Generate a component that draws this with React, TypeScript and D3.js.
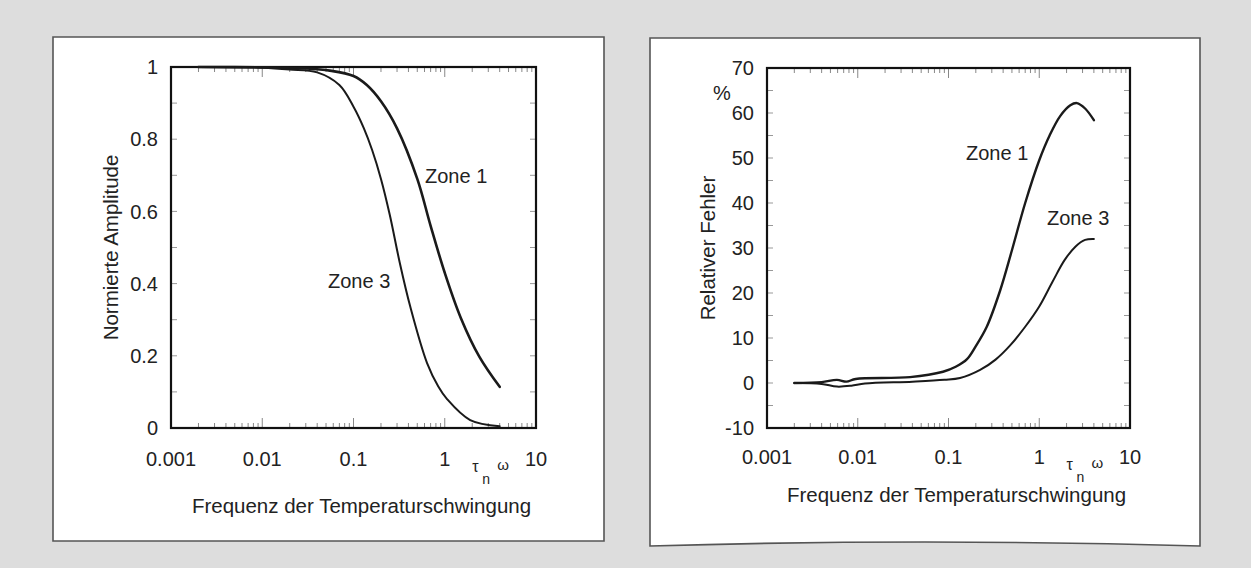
import React from "react";
import * as d3 from "d3";

// ---------- data ----------
const xTickValues = [0.001, 0.01, 0.1, 1, 10];
const xTickLabels = ["0.001", "0.01", "0.1", "1", "10"];

const ampTickValues = [0, 0.2, 0.4, 0.6, 0.8, 1];
const ampTickLabels = ["0", "0.2", "0.4", "0.6", "0.8", "1"];

const errTickValues = [-10, 0, 10, 20, 30, 40, 50, 60, 70];
const errTickLabels = ["-10", "0", "10", "20", "30", "40", "50", "60", "70"];

const zone1AmpX = [0.002, 0.01, 0.03, 0.055, 0.1, 0.14, 0.2, 0.3, 0.5, 0.7, 1.0, 1.5, 2.4, 4.0];
const zone1AmpY = [1.0, 0.999, 0.996, 0.99, 0.975, 0.95, 0.905, 0.83, 0.69, 0.56, 0.43, 0.305, 0.197, 0.114];

const zone3AmpX = [0.002, 0.01, 0.02, 0.04, 0.07, 0.1, 0.13, 0.16, 0.2, 0.25, 0.32, 0.42, 0.64, 0.85, 1.06, 1.9, 4.0];
const zone3AmpY = [1.0, 0.998, 0.993, 0.985, 0.95, 0.89, 0.83, 0.77, 0.69, 0.59, 0.46, 0.335, 0.18, 0.115, 0.08, 0.022, 0.005];

const zone1ErrX = [0.002, 0.004, 0.0059, 0.0075, 0.0095, 0.0377, 0.087, 0.12, 0.16, 0.2, 0.264, 0.37, 0.5, 0.7, 1.0, 1.3, 1.7, 2.2, 2.6, 3.2, 4.0];
const zone1ErrY = [0, 0.2, 0.7, 0.3, 0.9, 1.3, 2.5, 3.6, 5.3, 8.2, 12.5, 20.5, 29.5, 40, 49.5, 55, 59.3, 61.7, 62.2, 61.0, 58.4];

const zone3ErrX = [0.002, 0.004, 0.0059, 0.0085, 0.012, 0.04, 0.09, 0.134, 0.223, 0.33, 0.475, 0.7, 1.0, 1.4, 1.9, 2.5, 3.2, 4.0];
const zone3ErrY = [0, -0.2, -0.8, -0.6, -0.1, 0.3, 0.7, 1.1, 2.9, 5.2, 8.3, 12.5, 17, 22.5, 27.3, 30.3, 31.8, 32.0];

const FONT = "'Liberation Sans', Arial, sans-serif";
const TXT = "#222";

type Series = { xs: number[]; ys: number[]; w: number };

type PanelProps = {
  frame: { x0: number; y0: number; x1: number; y1: number; sag: number };
  plot: { left: number; right: number; top: number; bottom: number };
  yDomain: [number, number];
  yTicks: number[];
  yTickLabels: string[];
  yMinorStep: number;
  series: Series[];
  yLabel: string;
  yLabelX: number;
  percent?: boolean;
  labels: { text: string; x: number; y: number }[];
  xLabelY: number;
  titleY: number;
};

function Panel(p: PanelProps) {
  const x = d3.scaleLog().domain([0.001, 10]).range([p.plot.left, p.plot.right]);
  const y = d3.scaleLinear().domain(p.yDomain).range([p.plot.bottom, p.plot.top]);
  const line = d3
    .line<[number, number]>()
    .x((d) => x(d[0]))
    .y((d) => y(d[1]))
    .curve(d3.curveCatmullRom.alpha(0.5));

  const minor: { v: number; major: boolean }[] = [];
  for (let e = -3; e <= 1; e++) {
    for (let m = 1; m <= 9; m++) {
      const v = m * Math.pow(10, e);
      if (v > 10.0001) break;
      minor.push({ v, major: m === 1 });
    }
  }
  const yMinor: number[] = [];
  for (let v = p.yDomain[0]; v <= p.yDomain[1] + 1e-9; v += p.yMinorStep) yMinor.push(+v.toFixed(6));

  const f = p.frame;
  const framePath = `M${f.x0},${f.y0} L${f.x1},${f.y0} L${f.x1},${f.y1} Q${(f.x0 + f.x1) / 2},${f.y1 - f.sag} ${f.x0},${f.y1} Z`;
  const midY = (p.plot.top + p.plot.bottom) / 2;

  return (
    <g>
      <path d={framePath} fill="#fff" stroke="#555" strokeWidth={1.6} />
      {minor.map((t, i) => (
        <g key={"xt" + i} stroke="#888" strokeWidth={1}>
          <line x1={x(t.v)} x2={x(t.v)} y1={p.plot.top} y2={p.plot.top + (t.major ? 10 : 5)} />
          <line x1={x(t.v)} x2={x(t.v)} y1={p.plot.bottom} y2={p.plot.bottom - (t.major ? 10 : 5)} />
        </g>
      ))}
      {yMinor.map((v, i) => (
        <g key={"yt" + i} stroke="#999" strokeWidth={1}>
          <line x1={p.plot.left} x2={p.plot.left + 6} y1={y(v)} y2={y(v)} />
          <line x1={p.plot.right} x2={p.plot.right - 6} y1={y(v)} y2={y(v)} />
        </g>
      ))}
      <rect
        x={p.plot.left}
        y={p.plot.top}
        width={p.plot.right - p.plot.left}
        height={p.plot.bottom - p.plot.top}
        fill="none"
        stroke="#111"
        strokeWidth={2.2}
      />
      {p.series.map((s, i) => (
        <path
          key={"s" + i}
          d={line(s.xs.map((v, j) => [v, s.ys[j]] as [number, number])) || ""}
          fill="none"
          stroke="#1a1a1a"
          strokeWidth={s.w}
          strokeLinejoin="round"
          strokeLinecap="round"
        />
      ))}
      {p.yTicks.map((v, i) => (
        <text
          key={"yl" + i}
          x={p.plot.left - 13}
          y={y(v)}
          dy="0.36em"
          textAnchor="end"
          fontFamily={FONT}
          fontSize={20}
          fill={TXT}
        >
          {p.yTickLabels[i]}
        </text>
      ))}
      {xTickValues.map((v, i) => (
        <text
          key={"xl" + i}
          x={x(v)}
          y={p.xLabelY}
          dy="0.36em"
          textAnchor="middle"
          fontFamily={FONT}
          fontSize={20}
          fill={TXT}
        >
          {xTickLabels[i]}
        </text>
      ))}
      <text x={x(2.0)} y={p.xLabelY + 13} fontFamily={FONT} fontSize={16} fill={TXT}>
        τ
      </text>
      <text x={x(2.0) + 10} y={p.xLabelY + 25} fontFamily={FONT} fontSize={14} fill={TXT}>
        n
      </text>
      <text x={x(2.0) + 25} y={p.xLabelY + 11} fontFamily={FONT} fontSize={15} fill={TXT}>
        ω
      </text>
      <text
        x={(p.plot.left + p.plot.right) / 2 + 8}
        y={p.titleY}
        dy="0.36em"
        textAnchor="middle"
        fontFamily={FONT}
        fontSize={20.5}
        fill={TXT}
      >
        Frequenz der Temperaturschwingung
      </text>
      <text
        transform={`translate(${p.yLabelX},${midY}) rotate(-90)`}
        textAnchor="middle"
        dy="0.36em"
        fontFamily={FONT}
        fontSize={20.5}
        fill={TXT}
      >
        {p.yLabel}
      </text>
      {p.percent && (
        <text x={p.plot.left - 54} y={p.plot.top + 25} dy="0.36em" fontFamily={FONT} fontSize={20} fill={TXT}>
          %
        </text>
      )}
      {p.labels.map((l, i) => (
        <text key={"lab" + i} x={l.x} y={l.y} fontFamily={FONT} fontSize={20} fill={TXT}>
          {l.text}
        </text>
      ))}
    </g>
  );
}

export default function App() {
  return (
    <svg
      width={1251}
      height={568}
      style={{ position: "absolute", left: 0, top: 0, display: "block" }}
    >
      <rect x={0} y={0} width={1251} height={568} fill="#dddddd" />
      <Panel
        frame={{ x0: 53, y0: 37, x1: 604, y1: 541, sag: 0 }}
        plot={{ left: 171, right: 536, top: 67, bottom: 428 }}
        yDomain={[0, 1]}
        yTicks={ampTickValues}
        yTickLabels={ampTickLabels}
        yMinorStep={0.1}
        series={[
          { xs: zone1AmpX, ys: zone1AmpY, w: 2.6 },
          { xs: zone3AmpX, ys: zone3AmpY, w: 2 },
        ]}
        yLabel="Normierte Amplitude"
        yLabelX={111}
        labels={[
          { text: "Zone 1", x: 425, y: 183 },
          { text: "Zone 3", x: 328, y: 288 },
        ]}
        xLabelY={459}
        titleY={506}
      />
      <Panel
        frame={{ x0: 650, y0: 38, x1: 1200, y1: 546, sag: 8 }}
        plot={{ left: 767, right: 1130, top: 68, bottom: 428 }}
        yDomain={[-10, 70]}
        yTicks={errTickValues}
        yTickLabels={errTickLabels}
        yMinorStep={5}
        series={[
          { xs: zone1ErrX, ys: zone1ErrY, w: 2.4 },
          { xs: zone3ErrX, ys: zone3ErrY, w: 2 },
        ]}
        yLabel="Relativer Fehler"
        yLabelX={708}
        percent
        labels={[
          { text: "Zone 1", x: 966, y: 160 },
          { text: "Zone 3", x: 1047, y: 225 },
        ]}
        xLabelY={457}
        titleY={495}
      />
    </svg>
  );
}
